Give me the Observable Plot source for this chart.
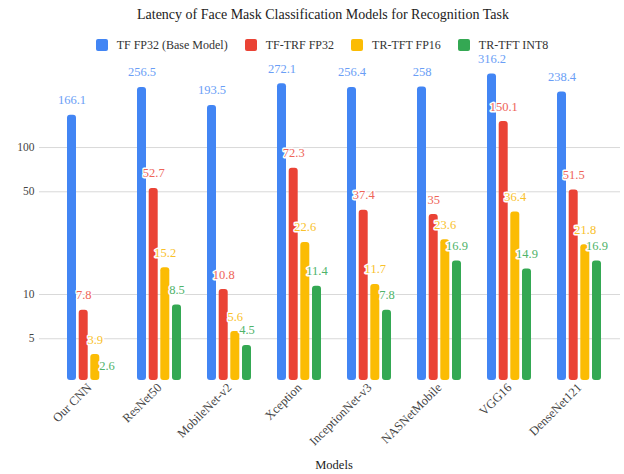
<!DOCTYPE html>
<html>
<head>
<meta charset="utf-8">
<script src="https://cdn.jsdelivr.net/npm/d3@7"></script>
<script src="https://cdn.jsdelivr.net/npm/@observablehq/plot@0.6"></script>
<style>
  body { margin: 0; background: #fff; font-family: "Liberation Serif", serif; color: #222; }
  #wrap { width: 624px; height: 474px; overflow: hidden; }
  #title { height: 30px; line-height: 30px; font-size: 14px; text-align: center; padding-left: 22px; box-sizing: border-box; font-family: "Liberation Serif", serif; }
  #legend { height: 30px; display: flex; align-items: center; justify-content: center; padding-left: 20px; box-sizing: border-box; font-size: 12px; color: #333; font-family: "Liberation Serif", serif; }
  .item { display: flex; align-items: center; margin: 0 8.5px; }
  .swatch { width: 12px; height: 12px; border-radius: 2px; margin-right: 9px; }
  #xlabel { height: 18px; line-height: 18px; font-size: 12.5px; text-align: center; padding-left: 44px; box-sizing: border-box; font-family: "Liberation Serif", serif; }
  #chart svg text { font-family: "Liberation Serif", serif; }
  #chart svg g[aria-label^="x-axis"] text { font-size: 12.5px; }
</style>
</head>
<body>
<div id="wrap">
  <div id="title">Latency of Face Mask Classification Models for Recognition Task</div>
  <div id="legend"></div>
  <div id="chart"></div>
  <div id="xlabel">Models</div>
</div>
<script>
// Models compared
const models = ["Our CNN", "ResNet50", "MobileNet-v2", "Xception", "InceptionNet-v3", "NASNetMobile", "VGG16", "DenseNet121"];

// Inference latency per model for each optimisation variant
const seriesNames = ["TF FP32 (Base Model)", "TF-TRF FP32", "TR-TFT FP16", "TR-TFT INT8"];
const tfFp32 = [166.1, 256.5, 193.5, 272.1, 256.4, 258, 316.2, 238.4];
const tfTrfFp32 = [7.8, 52.7, 10.8, 72.3, 37.4, 35, 150.1, 51.5];
const trTftFp16 = [3.9, 15.2, 5.6, 22.6, 11.7, 23.6, 36.4, 21.8];
const trTftInt8 = [2.6, 8.5, 4.5, 11.4, 7.8, 16.9, 14.9, 16.9];

// Y axis tick values (log scale)
const yTicks = [5, 10, 50, 100];

const seriesValues = [tfFp32, tfTrfFp32, trTftFp16, trTftInt8];
const barColors = ["#4285f4", "#ea4335", "#fbbc04", "#34a853"];
const labelColors = ["#6a9ef6", "#ee6458", "#f9c12a", "#4fb36a"];
const offsets = [-17.5, -5.8, 5.8, 17.5];
const yFloor = 2.6;

// legend
const legend = document.getElementById("legend");
seriesNames.forEach((name, i) => {
  const item = document.createElement("div");
  item.className = "item";
  const sw = document.createElement("div");
  sw.className = "swatch";
  sw.style.background = barColors[i];
  const lab = document.createElement("span");
  lab.textContent = name;
  item.append(sw, lab);
  legend.append(item);
});

const marks = [Plot.ruleY(yTicks, {stroke: "#d9d9d9", strokeWidth: 1})];
seriesValues.forEach((vals, i) => {
  const rows = models.map((m, j) => ({model: m, value: vals[j]}));
  marks.push(Plot.rectY(rows, {
    x: "model", y1: yFloor, y2: "value",
    fill: barColors[i], dx: offsets[i], insetLeft: 30.5, insetRight: 30.5, rx: 3
  }));
});
seriesValues.forEach((vals, i) => {
  const rows = models.map((m, j) => ({model: m, value: vals[j]}));
  marks.push(Plot.text(rows, {
    x: "model", y: "value", text: d => String(d.value),
    dx: offsets[i], dy: -15, fill: labelColors[i],
    stroke: "white", strokeWidth: 3, paintOrder: "stroke",
    fontSize: 12.5, fontFamily: "Liberation Serif"
  }));
});

const chart = Plot.plot({
  width: 624,
  height: 396,
  marginLeft: 39,
  marginRight: 4,
  marginTop: 0,
  marginBottom: 76,
  style: {fontFamily: "Liberation Serif", fontSize: "11.5px", color: "#444", overflow: "visible", background: "transparent"},
  x: {type: "band", domain: models, range: [51.8, 615.2], padding: 0, tickRotate: -45, tickSize: 0, tickPadding: 5, label: null},
  y: {type: "log", domain: [yFloor, 391], ticks: yTicks, tickFormat: d => String(d), tickSize: 0, tickPadding: 5, label: null},
  marks
});
document.getElementById("chart").append(chart);
</script>
</body>
</html>
